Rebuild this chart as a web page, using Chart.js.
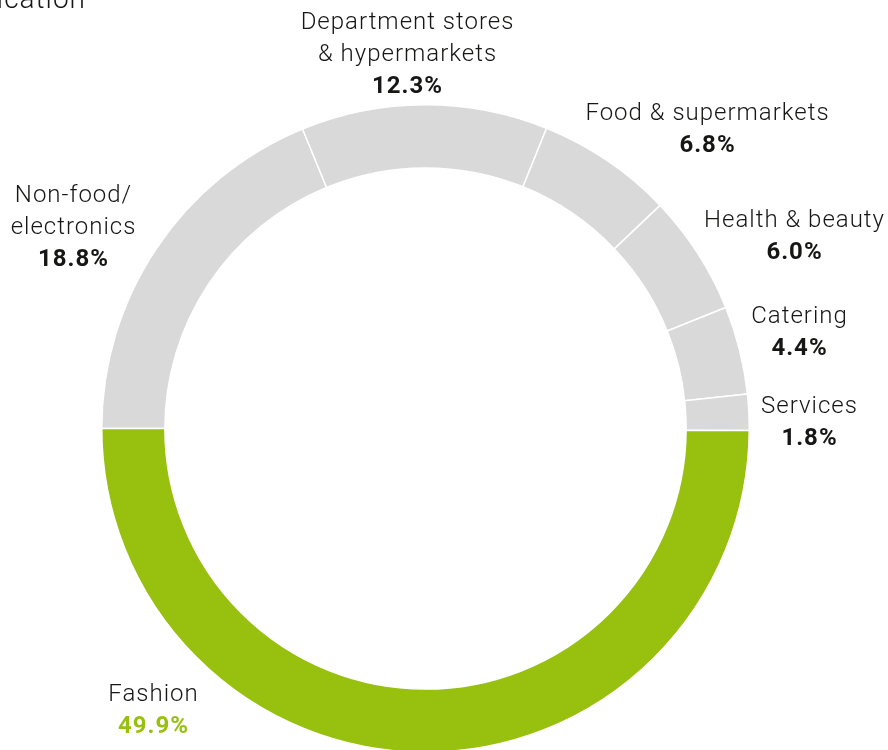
<!DOCTYPE html>
<html>
<head>
<meta charset="utf-8">
<script src="https://cdn.jsdelivr.net/npm/chart.js@4/dist/chart.umd.min.js"></script>
<style>
  html, body { margin: 0; padding: 0; background: #fff; overflow: hidden; }
  .wrap { position: absolute; left: 0; top: 0; width: 888px; height: 780px; }
</style>
</head>
<body>
<div class="wrap"><canvas id="sectorChart"></canvas></div>
<script>
// Sector split of the rental income, clockwise from 9 o'clock
const SECTORS = [
  ['Non-food/', 'electronics'],
  ['Department stores', '& hypermarkets'],
  ['Food & supermarkets'],
  ['Health & beauty'],
  ['Catering'],
  ['Services'],
  ['Fashion'],
];
const SHARES = [18.8, 12.3, 6.8, 6.0, 4.4, 1.8, 49.9];
const HIGHLIGHT = 'Fashion';

const GREEN = '#97c00f';
const GREY  = '#d9d9d9';
const INK   = '#161615';
const FONT  = 'Roboto, "DejaVu Sans", sans-serif';

// label anchor per sector: centre x and first baseline, relative to the ring centre
const LABEL_OFFSETS = [
  [-352, -227],
  [ -18, -400],
  [ 282, -309],
  [ 369, -202],
  [ 374, -106],
  [ 384,  -16],
  [-272,  272],
];
const LINE_H = 32;

const sectorLabels = {
  id: 'sectorLabels',
  afterDraw(chart) {
    const { ctx } = chart;
    const arc = chart.getDatasetMeta(0).data[0];
    const cx = arc.x, cy = arc.y;
    ctx.save();
    ctx.textAlign = 'center';
    ctx.textBaseline = 'alphabetic';
    ctx.letterSpacing = '1px';
    chart.data.labels.forEach((lines, i) => {
      const [dx, dy] = LABEL_OFFSETS[i];
      const x = cx + dx;
      let y = cy + dy;
      ctx.fillStyle = INK;
      ctx.font = `300 24px ${FONT}`;
      lines.forEach(line => { ctx.fillText(line, x, y); y += LINE_H; });
      ctx.fillStyle = lines[0] === HIGHLIGHT ? GREEN : INK;
      ctx.font = `700 24px ${FONT}`;
      ctx.fillText(SHARES[i].toFixed(1) + '%', x, y);
    });
    // heading, mostly above the visible area
    ctx.textAlign = 'right';
    ctx.fillStyle = INK;
    ctx.font = `300 28px ${FONT}`;
    ctx.fillText('Sector diversification', 86, 8);
    ctx.restore();
  },
};

new Chart(document.getElementById('sectorChart'), {
  type: 'doughnut',
  data: {
    labels: SECTORS,
    datasets: [{
      data: SHARES,
      backgroundColor: SECTORS.map(s => s[0] === HIGHLIGHT ? GREEN : GREY),
      borderColor: '#fff',
      borderWidth: 1.5,
    }],
  },
  options: {
    responsive: true, maintainAspectRatio: false,
    animation: false,
    rotation: -90,
    cutout: '80.5%',
    layout: { padding: { left: 101, right: 138, top: 104, bottom: 27 } },
    plugins: { legend: { display: false }, tooltip: { enabled: false } },
  },
  plugins: [sectorLabels],
});
</script>
</body>
</html>
